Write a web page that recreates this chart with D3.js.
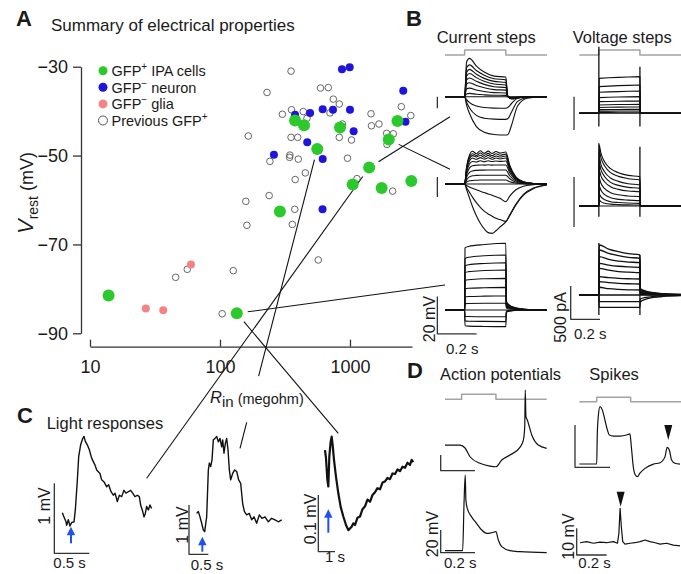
<!DOCTYPE html>
<html>
<head>
<meta charset="utf-8">
<script src="https://cdn.jsdelivr.net/npm/d3@7"></script>
<style>
  body { margin: 0; background: #fff; }
  svg text { font-family: "Liberation Sans", Arial, Helvetica, sans-serif; }
</style>
</head>
<body>
<script>
//  === Panel A data: input resistance (megohm) vs resting potential (mV) ===
var ipaR = [13.9, 134.7, 289, 378, 443, 560, 838, 1049, 1405, 1753, 1988, 2319, 2963];
var ipaV = [-81.5, -85.5, -62.6, -42.1, -43.2, -48.5, -43.7, -56.5, -52.7, -57.3, -46.4, -42.2, -55.7];
var neuronR = [868, 995, 2570, 493, 617, 740, 1000, 378, 2673, 1067, 469, 260, 617, 615];
var neuronV = [-30.6, -30.1, -35.4, -40.4, -39.6, -39.7, -39.7, -40.8, -42.4, -44.5, -47.0, -49.8, -50.8, -62.1];
var gliaR = [59.8, 26.9, 36.6];
var gliaV = [-74.5, -84.4, -84.8];
var prevR = [352, 230, 593, 681, 744, 827, 355, 437, 302, 467, 702, 1451, 1463, 1671, 2482, 2936, 875, 165, 352, 396,
    827, 1027, 1915, 2154, 1926, 345, 343, 400, 242, 957, 453, 379, 1132, 2129, 239, 158, 376, 161, 360, 570,
    45.6, 56.0, 126.5, 104];
var prevV = [-31.0, -35.8, -34.8, -34.7, -37.3, -38.4, -39.7, -40.1, -40.7, -41.6, -40.4, -40.6, -43.3, -42.9, -39.0, -41.0, -42.9, -45.6, -45.9, -45.9,
    -45.9, -46.5, -45.0, -45.1, -47.5, -49.9, -50.4, -50.8, -51.3, -50.6, -53.9, -55.4, -55.2, -58.0, -59.0, -60.3, -62.1, -65.7, -65.5, -73.5,
    -77.4, -75.6, -75.9, -85.6];
var majorR = [10, 100, 1000];
var minorR = [20, 30, 40, 50, 60, 70, 80, 90, 200, 300, 400, 500, 600, 700, 800, 900, 2000, 3000];
var vTicks = [-30, -50, -70, -90];
var legendNames = [["GFP", "+", " IPA cells"], ["GFP", "\u2212", " neuron"], ["GFP", "\u2212", " glia"], ["Previous GFP", "+", ""]];

//  === Panel B data: sweeps sampled on a shared time grid (s) ===
var stimT = [0, 0.1, 0.1001, 0.31, 0.3101, 0.52];
var stimLevel = [0, 0, 1, 1, 0, 0];

// current clamp, mV
var cc1T = [0, 0.1, 0.11, 0.125, 0.16, 0.2, 0.25, 0.31, 0.32, 0.34, 0.37, 0.42, 0.52];
var cc1Sweeps = [
    [0, 0, 18.6, 20.5, 16.4, 13.2, 11.0, 10.5, 0.4, -1.2, -0.7, -0.2, 0],
    [0, 0, 15.5, 17.0, 14.0, 11.5, 9.6, 9.0, 0.3, -1.1, -0.6, -0.2, 0],
    [0, 0, 13.0, 14.6, 12.0, 9.8, 8.2, 7.6, 0.3, -1.0, -0.6, -0.2, 0],
    [0, 0, 11.0, 12.4, 10.2, 8.3, 6.8, 6.3, 0.2, -0.9, -0.5, -0.2, 0],
    [0, 0, 9.0, 10.0, 8.2, 6.6, 5.3, 4.9, 0.2, -0.8, -0.5, -0.2, 0],
    [0, 0, 6.8, 7.5, 6.0, 4.8, 3.8, 3.5, 0.1, -0.7, -0.4, -0.1, 0],
    [0, 0, 4.2, 4.6, 3.6, 2.8, 2.2, 2.0, 0.1, -0.5, -0.3, -0.1, 0],
    [0, 0, 1.5, 1.8, 1.3, 1.0, 0.8, 0.7, 0, -0.3, -0.2, 0, 0],
    [0, 0, 0, 0, 0, 0, 0, 0, 0, 0, 0, 0, 0],
    [0, 0, -1.6, -3.2, -5, -5.8, -6.1, -6.2, -5.8, -3.5, -0.8, -0.1, 0],
    [0, 0, -3, -6, -10, -11.5, -12, -12.1, -11.8, -8, -2.5, -0.4, 0],
    [0, 0, -4.5, -9, -16, -19, -20.2, -20.5, -20.3, -15, -5, -0.8, 0]
];
var cc2T = [0, 0.1, 0.11, 0.125, 0.14, 0.16, 0.18, 0.2, 0.22, 0.24, 0.26, 0.28, 0.31, 0.33, 0.36, 0.4, 0.45, 0.52];
var cc2Sweeps = [
    [0, 0, 9, 15.5, 17.5, 16.2, 17.8, 16.4, 17.6, 16.3, 17.4, 16.5, 17.1, 10, 4, 1.2, 0.3, 0],
    [0, 0, 8.5, 14.5, 16.2, 15.2, 16.6, 15.3, 16.4, 15.1, 16.2, 15.4, 16.0, 9.4, 3.7, 1.1, 0.3, 0],
    [0, 0, 8, 13.6, 15.2, 14.4, 15.4, 14.3, 15.3, 14.2, 15.0, 14.4, 15.0, 8.8, 3.5, 1, 0.2, 0],
    [0, 0, 7.3, 12.4, 13.9, 13.2, 14.1, 13.3, 14.0, 13.2, 13.9, 13.4, 13.9, 8.1, 3.2, 0.9, 0.2, 0],
    [0, 0, 6.3, 10.7, 12.0, 11.8, 12.4, 11.9, 12.4, 12.0, 12.3, 12.1, 12.3, 7.2, 2.9, 0.8, 0.2, 0],
    [0, 0, 5, 8.6, 9.8, 10, 10.2, 10.1, 10.3, 10.1, 10.2, 10.2, 10.2, 6, 2.4, 0.7, 0.1, 0],
    [0, 0, 3.6, 6.2, 7.0, 7.3, 7.4, 7.4, 7.5, 7.5, 7.5, 7.5, 7.5, 4.4, 1.7, 0.5, 0.1, 0],
    [0, 0, 2.2, 3.8, 4.4, 4.6, 4.7, 4.7, 4.7, 4.7, 4.7, 4.7, 4.7, 2.8, 1.1, 0.3, 0, 0],
    [0, 0, 1, 1.7, 1.9, 2.0, 2.1, 2.1, 2.1, 2.1, 2.1, 2.1, 2.1, 1.2, 0.5, 0.1, 0, 0],
    [0, 0, 0, 0, 0, 0, 0, 0, 0, 0, 0, 0, 0, 0, 0, 0, 0, 0],
    [0, 0, -0.8, -1.6, -2.3, -3.1, -3.9, -4.6, -5.3, -6.0, -6.8, -7.6, -9.5, -6.5, -3.2, -1.2, -0.4, 0],
    [0, 0, -2, -4.5, -7, -10, -12.5, -14.5, -16, -17.2, -18.3, -19, -20, -16.5, -11, -5.5, -2.2, -0.4],
    [0, 0, -3, -7.5, -12, -17, -21, -24, -26, -26.4, -25, -23, -20.3, -17, -11.5, -6, -2.5, -0.5]
];
var cc3T = [0, 0.1, 0.102, 0.12, 0.2, 0.31, 0.313, 0.33, 0.36, 0.4, 0.45, 0.52];
var cc3Sweeps = [
    [0, 0, 33.2, 34, 35, 35.7, 4.5, 2.5, 1.2, 0.5, 0.1, 0],
    [0, 0, 27.5, 28.2, 29, 29.4, 4, 2.2, 1, 0.4, 0.1, 0],
    [0, 0, 23.6, 24.2, 24.9, 25.3, 3.6, 2, 0.9, 0.4, 0.1, 0],
    [0, 0, 20, 20.5, 21.1, 21.4, 3.2, 1.8, 0.8, 0.3, 0.1, 0],
    [0, 0, 15.8, 16.2, 16.7, 16.9, 2.7, 1.5, 0.7, 0.3, 0.1, 0],
    [0, 0, 11.3, 11.6, 11.9, 12.1, 2.2, 1.2, 0.5, 0.2, 0, 0],
    [0, 0, 7, 7.2, 7.4, 7.5, 1.6, 0.9, 0.4, 0.2, 0, 0],
    [0, 0, 3.4, 3.5, 3.6, 3.6, 1, 0.5, 0.2, 0.1, 0, 0],
    [0, 0, 0, 0, 0, 0, 0, 0, 0, 0, 0, 0],
    [0, 0, -3.4, -3.5, -3.6, -3.6, -0.6, -0.3, -0.1, 0, 0, 0],
    [0, 0, -5.8, -6, -6.1, -6.2, -0.9, -0.4, -0.2, 0, 0, 0],
    [0, 0, -8.4, -8.6, -8.8, -8.9, -1.2, -0.6, -0.2, -0.1, 0, 0]
];

// voltage clamp, pA
var vc1T = [0, 0.1, 0.102, 0.15, 0.2, 0.25, 0.31, 0.312, 0.52];
var vc1Sweeps = [
    [0, 0, 525, 533, 540, 546, 550, 0, 0],
    [0, 0, 400, 408, 415, 420, 425, 0, 0],
    [0, 0, 315, 321, 326, 331, 335, 0, 0],
    [0, 0, 235, 240, 244, 247, 250, 0, 0],
    [0, 0, 175, 178, 181, 183, 185, 0, 0],
    [0, 0, 125, 128, 131, 133, 135, 0, 0],
    [0, 0, 88, 90, 92, 94, 95, 0, 0],
    [0, 0, 55, 57, 58, 59, 60, 0, 0],
    [0, 0, 32, 33, 34, 35, 35, 0, 0],
    [0, 0, 14, 14, 15, 15, 15, 0, 0],
    [0, 0, 0, 0, 0, 0, 0, 0, 0]
];
var vc2T = [0, 0.1, 0.102, 0.11, 0.13, 0.16, 0.2, 0.25, 0.31, 0.312, 0.52];
var vc2Sweeps = [
    [0, 0, 916, 800, 660, 560, 500, 460, 440, 0, 0],
    [0, 0, 840, 730, 600, 500, 445, 410, 390, 0, 0],
    [0, 0, 736, 630, 510, 420, 370, 335, 315, 0, 0],
    [0, 0, 646, 550, 440, 355, 310, 280, 265, 0, 0],
    [0, 0, 540, 455, 360, 290, 250, 225, 215, 0, 0],
    [0, 0, 420, 345, 260, 200, 168, 150, 140, 0, 0],
    [0, 0, 300, 240, 170, 125, 100, 88, 80, 0, 0],
    [0, 0, 180, 140, 95, 65, 52, 44, 40, 0, 0],
    [0, 0, 90, 65, 42, 28, 21, 17, 15, 0, 0],
    [0, 0, 0, 0, 0, 0, 0, 0, 0, 0, 0]
];
var vc3T = [0, 0.1, 0.102, 0.15, 0.2, 0.25, 0.31, 0.312, 0.34, 0.38, 0.43, 0.52];
var vc3Sweeps = [
    [0, 0, 751, 690, 650, 620, 601, 100, 60, 35, 20, 10],
    [0, 0, 676, 625, 590, 565, 551, 85, 52, 30, 17, 8],
    [0, 0, 575, 535, 508, 495, 485, 70, 42, 25, 14, 7],
    [0, 0, 475, 450, 432, 422, 416, 55, 33, 19, 11, 5],
    [0, 0, 400, 372, 352, 342, 335, 40, 24, 14, 8, 4],
    [0, 0, 275, 260, 250, 244, 240, 28, 17, 10, 6, 3],
    [0, 0, 200, 185, 175, 169, 165, 18, 11, 6, 4, 2],
    [0, 0, 116, 95, 84, 78, 75, 8, 5, 3, 2, 1],
    [0, 0, 0, 0, 0, 0, 0, 0, 0, 0, 0, 0],
    [0, 0, -100, -100, -100, -100, -100, -60, -36, -21, -12, -6],
    [0, 0, -185, -185, -185, -185, -185, -105, -63, -37, -21, -10]
];
// capacitive transients at step on / off: [t, low pA, high pA]
var vc1Trans = [[0.1, -200, 1000], [0.31, -200, 700]];
var vc2Trans = [[0.1, -160, 941], [0.31, -160, 890]];
var vc3Trans = [[0.1, -300, 780], [0.31, -300, 600]];

//  === Panel C data: light responses, [t (s), mV] ===
var lightA = [[0.114, 0.58], [0.138, 0.52], [0.167, 0.45], [0.176, 0.40], [0.2, 0.48], [0.224, 0.39], [0.248, 0.44], [0.281, 0.45],
    [0.3, 0.62], [0.329, 1.05], [0.348, 1.38], [0.376, 1.55], [0.405, 1.64], [0.424, 1.67], [0.443, 1.6], [0.471, 1.55],
    [0.5, 1.48], [0.533, 1.36], [0.581, 1.26], [0.605, 1.19], [0.652, 1.14], [0.676, 1.05], [0.71, 1.02], [0.748, 0.95],
    [0.776, 0.98], [0.81, 0.88], [0.843, 0.83], [0.867, 0.86], [0.9, 0.74], [0.929, 0.83], [0.962, 0.81], [0.995, 0.9],
    [1.024, 0.86], [1.057, 0.88], [1.09, 0.9], [1.119, 0.86], [1.152, 0.81], [1.186, 0.83], [1.214, 0.81], [1.233, 0.69],
    [1.262, 0.6], [1.281, 0.52], [1.3, 0.57], [1.319, 0.67], [1.343, 0.62], [1.367, 0.69], [1.39, 0.64]];
var lightB = [[0.198, 0.83], [0.241, 0.87], [0.284, 0.76], [0.328, 0.63], [0.371, 0.49], [0.405, 0.46], [0.457, 0.76], [0.5, 1.71],
    [0.526, 1.85], [0.56, 1.78], [0.595, 1.91], [0.629, 2.32], [0.672, 2.35], [0.716, 2.39], [0.759, 2.28], [0.802, 2.35],
    [0.845, 2.18], [0.871, 2.32], [0.905, 2.05], [0.94, 2.25], [0.974, 2.35], [1.009, 2.12], [1.043, 1.71], [1.078, 1.51],
    [1.129, 1.64], [1.181, 1.71], [1.233, 1.68], [1.284, 1.51], [1.336, 1.44], [1.388, 1.03], [1.431, 0.87], [1.491, 0.8],
    [1.56, 0.83], [1.621, 0.7], [1.681, 0.76], [1.75, 0.63], [1.819, 0.8], [1.888, 0.73], [1.966, 0.76], [2.052, 0.66],
    [2.138, 0.73], [2.224, 0.7], [2.31, 0.66], [2.397, 0.7]];
var lightC = [[0.4, 0.179], [0.46, 0.165], [0.54, 0.127], [0.6, 0.115], [0.66, 0.168], [0.74, 0.194], [0.8, 0.203], [0.86, 0.188],
    [0.94, 0.162], [1.06, 0.132], [1.2, 0.103], [1.34, 0.079], [1.5, 0.062], [1.66, 0.047], [1.8, 0.038], [2.0, 0.044],
    [2.1, 0.05], [2.2, 0.047], [2.35, 0.06], [2.5, 0.062], [2.65, 0.075], [2.8, 0.08], [2.95, 0.092], [3.1, 0.088],
    [3.25, 0.1], [3.4, 0.105], [3.55, 0.112], [3.7, 0.11], [3.85, 0.122], [4.0, 0.124], [4.15, 0.13], [4.3, 0.128],
    [4.45, 0.138], [4.6, 0.137], [4.75, 0.145], [4.9, 0.142], [5.05, 0.15], [5.2, 0.148], [5.35, 0.157], [5.5, 0.153],
    [5.6, 0.162], [5.7, 0.158]];
// light onset arrows: [t, tail mV, tip mV]
var lightArrows = [[0.238, 0.143, 0.381], [0.345, 0.054, 0.358], [0.6, 0.0335, 0.0747]];

//  === Panel D data: [t (s), mV] ===
var apStimT = [0.025, 0.122, 0.1221, 0.322, 0.3221, 0.618];
var spikeStimT = [0.025, 0.124, 0.1241, 0.318, 0.3181, 0.606];
var apTop = [[0.025, 22.6], [0.113, 22.6], [0.142, 20.0], [0.171, 12.3], [0.229, 6.5], [0.287, 4.1], [0.322, 3.5], [0.356, 9.4],
    [0.404, 13.8], [0.462, 20.6], [0.482, 27.0], [0.49, 38.8], [0.493, 71.1], [0.497, 47.6], [0.505, 44.7], [0.531, 31.5],
    [0.569, 22.6], [0.618, 19.7]];
var apBottom = [[0.025, 1.8], [0.128, 1.8], [0.136, 43.4], [0.143, 68.3], [0.147, 46.3], [0.155, 39.0], [0.18, 31.6], [0.21, 25.7],
    [0.239, 20.0], [0.268, 17.0], [0.297, 17.6], [0.322, 18.5], [0.336, 11.2], [0.356, 5.3], [0.404, 1.8], [0.462, 0.9], [0.618, 0]];
var spikeTop = [[0.025, 1.24], [0.124, 1.24], [0.127, 11.5], [0.133, 19.0], [0.143, 22.7], [0.156, 21.5], [0.171, 17.7], [0.185, 14.0],
    [0.196, 12.1], [0.219, 11.7], [0.257, 11.7], [0.295, 12.1], [0.314, 12.5], [0.322, 7.7], [0.333, 0.2], [0.345, -2.9],
    [0.356, -3.5], [0.371, -2.2], [0.4, -0.4], [0.448, 1.2], [0.486, 1.7], [0.514, 3.9], [0.527, 7.5], [0.539, 6.5],
    [0.552, 2.7], [0.571, 1.5], [0.6, 1.2]];
var spikeBottom = [[0.019, 4.6], [0.057, 5.0], [0.095, 4.4], [0.133, 4.8], [0.171, 4.6], [0.21, 5.0], [0.233, 4.4], [0.241, 8.1],
    [0.248, 17.5], [0.255, 10.6], [0.263, 5.0], [0.276, 4.1], [0.305, 4.4], [0.333, 4.6], [0.362, 5.0], [0.39, 5.6],
    [0.419, 5.0], [0.448, 4.6], [0.476, 4.1], [0.514, 4.4], [0.552, 3.7], [0.59, 3.4]];
// detected spikes: [t, tip mV, top mV]
var spikeMarks = [[0.533, 10.2, 15.8], [0.251, 18.1, 23.7]];

//  === Figure ===
var svg = d3.select("body").append("svg")
    .attr("width", 681).attr("height", 574);

var green = "#2bc92b", blue = "#1e14dc", pink = "#f48484", ink = "#111";

function label(x, y, parts, opts) {
    opts = opts || {};
    var t = svg.append("text")
        .attr("x", x).attr("y", y)
        .attr("font-size", opts.size || 16)
        .attr("fill", "#1a1a1a")
        .attr("text-anchor", opts.anchor || "start");
    if (opts.bold) t.attr("font-weight", "bold");
    if (opts.rotate) t.attr("transform", "rotate(-90," + x + "," + y + ")");
    if (typeof parts == "string") parts = [{ s: parts }];
    parts.forEach(function (p) {
        var sp = t.append("tspan").text(p.s);
        if (p.size) sp.attr("font-size", p.size);
        if (p.dy) sp.attr("dy", p.dy);
        if (p.italic) sp.attr("font-style", "italic");
    });
    return t;
}

// a trace panel: time (s) -> x, value -> y (pxPerUnit pixels per unit)
function makePanel(x0, x1, tmax, yBase, pxPerUnit) {
    return {
        x: d3.scaleLinear().domain([0, tmax]).range([x0, x1]),
        y: d3.scaleLinear().domain([0, 1]).range([yBase, yBase - pxPerUnit])
    };
}

function trace(p, pts, opts) {
    opts = opts || {};
    var line = d3.line()
        .x(function (d) { return p.x(d[0]); })
        .y(function (d) { return p.y(d[1]); })
        .curve(opts.curve || d3.curveLinear);
    svg.append("path").datum(pts)
        .attr("d", line)
        .attr("fill", "none")
        .attr("stroke", opts.color || ink)
        .attr("stroke-width", opts.width || 1.1)
        .attr("stroke-linejoin", "round");
}

function family(p, times, sweeps, opts) {
    sweeps.forEach(function (s) {
        trace(p, times.map(function (t, i) { return [t, s[i]]; }), opts);
    });
}

function transients(p, list) {
    list.forEach(function (d) {
        trace(p, [[d[0], d[1]], [d[0], d[2]]], { width: 1.3 });
    });
}

function stimulus(p, times) {
    trace(p, times.map(function (t, i) { return [t, stimLevel[i]]; }), { color: "#a3a3a3", width: 1.5 });
}

function scaleBar(p, t0, v0, dt, dv) {
    var pts = [[t0, v0 + dv], [t0, v0]];
    if (dt) pts.push([t0 + dt, v0]);
    trace(p, pts, { color: "#333", width: 1.3 });
}

//  === A: scatter ===
var xA = d3.scaleLog().domain([10, 3000]).range([90, 412]);
var yA = d3.scaleLinear().domain([-90, -30]).range([333.3, 66.7]);

function styleAxis(g) {
    g.selectAll(".domain, .tick line").attr("stroke", "#333").attr("stroke-width", 1.3);
    g.selectAll("text").attr("font-size", 18).attr("fill", "#1a1a1a");
}

var gx = svg.append("g").attr("transform", "translate(0,346.7)");
gx.call(d3.axisBottom(xA).tickValues(minorR).tickSize(-4).tickSizeOuter(0).tickFormat(""));
gx.call(d3.axisBottom(xA).tickValues(majorR).tickSize(-7).tickSizeOuter(0).tickPadding(14).tickFormat(d3.format("d")));
styleAxis(gx);

var gy = svg.append("g").attr("transform", "translate(81,0)");
gy.call(d3.axisLeft(yA).tickValues(vTicks).tickSize(8).tickSizeOuter(0).tickPadding(5));
styleAxis(gy);

// lines from recorded cells to their example traces
var links = [
    { cell: 1, to: [445, 285] },
    { cell: 1, to: [338.3, 433.3] },
    { cell: 8, to: [450, 116.7] },
    { cell: 8, to: [146.7, 478.3] },
    { cell: 10, to: [450, 169.3] },
    { cell: 5, to: [240, 448.3], gap: [0.75, 0.91] }
];
links.forEach(function (l) {
    var cx = xA(ipaR[l.cell]), cy = yA(ipaV[l.cell]);
    var dx = l.to[0] - cx, dy = l.to[1] - cy, len = Math.sqrt(dx * dx + dy * dy);
    var sx = cx + dx / len * 11, sy = cy + dy / len * 11;
    var segs = l.gap ? [[0, l.gap[0]], [l.gap[1], 1]] : [[0, 1]];
    segs.forEach(function (s) {
        svg.append("line")
            .attr("x1", sx + (l.to[0] - sx) * s[0]).attr("y1", sy + (l.to[1] - sy) * s[0])
            .attr("x2", sx + (l.to[0] - sx) * s[1]).attr("y2", sy + (l.to[1] - sy) * s[1])
            .attr("stroke", ink).attr("stroke-width", 1.1);
    });
});

function dots(R, V, r, fill, stroke) {
    svg.append("g").selectAll("circle")
        .data(R).enter().append("circle")
        .attr("cx", function (d) { return xA(d); })
        .attr("cy", function (d, i) { return yA(V[i]); })
        .attr("r", r)
        .attr("fill", fill)
        .attr("stroke", stroke || "none")
        .attr("stroke-width", 0.9);
}
dots(prevR, prevV, 3.3, "none", "#555");
dots(neuronR, neuronV, 4, blue);
dots(gliaR, gliaV, 4, pink);
dots(ipaR, ipaV, 6, green);

// legend
var legendStyle = [[green, "none"], [blue, "none"], [pink, "none"], ["none", "#555"]];
legendNames.forEach(function (n, i) {
    var y = 70.7 + i * 16.6;
    svg.append("circle").attr("cx", 103).attr("cy", y).attr("r", 4.5)
        .attr("fill", legendStyle[i][0]).attr("stroke", legendStyle[i][1]).attr("stroke-width", 1);
    label(111.5, y + 5.3, [{ s: n[0] }, { s: n[1], size: 10, dy: -6 }, { s: n[2], dy: 6 }], { size: 14.5 });
});

label(16, 26, "A", { size: 22, bold: true });
label(51, 30.5, "Summary of electrical properties", { size: 17 });
label(33, 193, [{ s: "V", italic: true, size: 22 }, { s: "rest", size: 14, dy: 5 }, { s: " (mV)", size: 18, dy: -5 }],
    { rotate: true, anchor: "middle" });
label(210, 403.3, [{ s: "R", italic: true, size: 16.5 }, { s: "in", size: 15, dy: 4 }, { s: " (megohm)", size: 14.5, dy: -3 }]);

//  === B: current and voltage steps ===
label(406, 26, "B", { size: 22, bold: true });
label(436.7, 43.3, "Current steps", { size: 16.5 });
label(572.7, 43.3, "Voltage steps", { size: 16.5 });

stimulus(makePanel(445, 547, 0.52, 55, 5), stimT);
stimulus(makePanel(579.3, 681, 0.52, 55, 5), stimT);

var pB1 = makePanel(445, 547, 0.52, 96.7, 1.87);
var pB2 = makePanel(445, 547, 0.52, 184, 1.87);
var pB3 = makePanel(445, 547, 0.52, 310, 1.87);
family(pB1, cc1T, cc1Sweeps, { curve: d3.curveMonotoneX });
family(pB2, cc2T, cc2Sweeps, { curve: d3.curveMonotoneX });
family(pB3, cc3T, cc3Sweeps, { curve: d3.curveMonotoneX });
scaleBar(pB1, -0.039, -6.2, 0, 6.2);
scaleBar(pB2, -0.039, -7, 0, 10.7);
scaleBar(pB3, -0.039, -12.8, 0.2, 20);
label(435, 319, "20 mV", { size: 16, rotate: true, anchor: "middle" });
label(446, 354, "0.2 s", { size: 15 });

var pV1 = makePanel(579.3, 681, 0.52, 113.3, 0.0666);
var pV2 = makePanel(579.3, 681, 0.52, 206, 0.0666);
var pV3 = makePanel(579.3, 681, 0.52, 295, 0.0666);
family(pV1, vc1T, vc1Sweeps);
family(pV2, vc2T, vc2Sweeps, { curve: d3.curveMonotoneX });
family(pV3, vc3T, vc3Sweeps, { curve: d3.curveMonotoneX, width: 1.3 });
transients(pV1, vc1Trans);
transients(pV2, vc2Trans);
transients(pV3, vc3Trans);
scaleBar(pV1, -0.027, -251, 0, 500);
scaleBar(pV2, -0.027, -315, 0, 750);
scaleBar(pV3, -0.044, -365, 0.15, 500);
label(566, 317.5, "500 pA", { size: 16, rotate: true, anchor: "middle" });
label(574, 339.3, "0.2 s", { size: 15 });

//  === C: light responses ===
label(17, 423, "C", { size: 22, bold: true });
label(46.7, 429.3, "Light responses", { size: 16.5 });

var pC1 = makePanel(54.33, 152.33, 1.4, 553.33, 70);
var pC2 = makePanel(189, 281.8, 2.4, 554.33, 49.33);
var pC3 = makePanel(318.33, 413.33, 5.7, 551.67, 566.7);
trace(pC1, lightA, { width: 1.4 });
trace(pC2, lightB, { width: 1.4 });
trace(pC3, lightC, { width: 2.2 });
scaleBar(pC1, 0, 0, 0.5, 1);
scaleBar(pC2, 0, 0, 0.5, 1);
scaleBar(pC3, 0, 0, 1, 0.1);

[pC1, pC2, pC3].forEach(function (p, i) {
    var a = lightArrows[i];
    var x = p.x(a[0]), yTail = p.y(a[1]), yTip = p.y(a[2]);
    svg.append("line").attr("x1", x).attr("y1", yTail).attr("x2", x).attr("y2", yTip + 6)
        .attr("stroke", "#2050f0").attr("stroke-width", 2);
    svg.append("path").attr("d", "M" + x + "," + yTip + "L" + (x - 4.2) + "," + (yTip + 8.5) + "L" + (x + 4.2) + "," + (yTip + 8.5) + "Z")
        .attr("fill", "#2050f0");
});
label(49.5, 506, "1 mV", { size: 16, rotate: true, anchor: "middle" });
label(53.3, 568, "0.5 s", { size: 15 });
label(187.5, 525, "1 mV", { size: 16, rotate: true, anchor: "middle" });
label(190.7, 570, "0.5 s", { size: 15 });
label(316, 519, "0.1 mV", { size: 16, rotate: true, anchor: "middle" });
label(325, 561.7, "1 s", { size: 15 });

//  === D: action potentials and spikes ===
label(407, 378, "D", { size: 22, bold: true });
label(440, 380, "Action potentials", { size: 16.5 });
label(589.3, 380, "Spikes", { size: 16.5 });

var pDa = makePanel(440.7, 612.2, 1, 470.7, 1.135);
var pDb = makePanel(440.7, 612.2, 1, 552.7, 1.135);
var pDc = makePanel(575, 750, 1, 467.3, 2.67);
var pDd = makePanel(576.7, 751.7, 1, 555, 2.67);
stimulus(makePanel(440.7, 612.2, 1, 399.3, 5), apStimT);
stimulus(makePanel(575, 750, 1, 401.7, 4.4), spikeStimT);
trace(pDa, apTop, { curve: d3.curveMonotoneX, width: 1.2 });
trace(pDb, apBottom, { curve: d3.curveMonotoneX, width: 1.2 });
trace(pDc, spikeTop, { curve: d3.curveMonotoneX, width: 1.2 });
trace(pDd, spikeBottom, { width: 1.2 });
scaleBar(pDa, 0, 0, 0.2, 13.8);
scaleBar(pDb, 0, 0, 0.2, 20);
scaleBar(pDc, 0, 0, 0.2, 15.8);
scaleBar(pDd, 0, 0, 0.171, 10);

[pDc, pDd].forEach(function (p, i) {
    var m = spikeMarks[i];
    var x = p.x(m[0]), yTip = p.y(m[1]), yTop = p.y(m[2]);
    svg.append("path").attr("d", "M" + (x - 4) + "," + yTop + "L" + (x + 4) + "," + yTop + "L" + x + "," + yTip + "Z")
        .attr("fill", ink);
});
label(438, 534, "20 mV", { size: 16, rotate: true, anchor: "middle" });
label(444, 568, "0.2 s", { size: 15 });
label(574, 536.5, "10 mV", { size: 16, rotate: true, anchor: "middle" });
label(578.3, 568, "0.2 s", { size: 15 });
</script>
</body>
</html>
